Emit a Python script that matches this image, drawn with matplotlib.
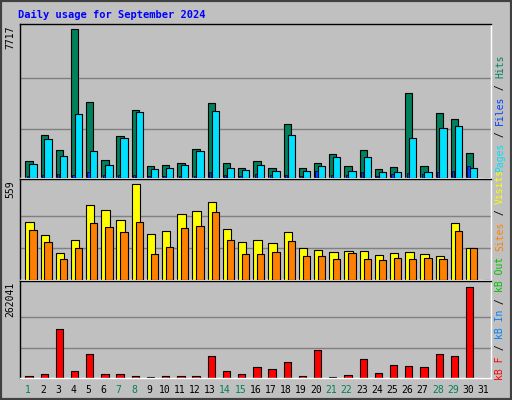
import matplotlib
matplotlib.use("Agg")
import matplotlib.pyplot as plt
from matplotlib.patches import Rectangle

days = list(range(1, 32))
weekend = [1, 7, 8, 14, 15, 21, 22, 28, 29]
hits = [892, 2257, 1470, 7717, 3937, 945, 2205, 3517, 630, 682, 787, 1487, 3885, 787, 525,
        892, 525, 2782, 525, 787, 1260, 630, 1470, 472, 577, 4410, 630, 3360, 3045, 1312, 0]
files = [735, 2047, 1155, 3307, 1417, 682, 2100, 3412, 472, 525, 682, 1417, 3465, 525, 420,
         682, 367, 2257, 367, 630, 1102, 367, 1102, 315, 315, 2100, 315, 2572, 2677, 525, 0]
pages = [120, 150, 200, 150, 330, 160, 150, 160, 110, 110, 100, 110, 330, 150, 110,
         200, 180, 160, 110, 350, 140, 150, 300, 110, 200, 250, 200, 300, 380, 600, 0]
visits = [340, 261, 158, 231, 437, 407, 352, 559, 267, 285, 383, 401, 456, 298, 219,
          231, 213, 279, 188, 176, 164, 170, 170, 146, 158, 164, 152, 140, 334, 188, 0]
sites = [292, 219, 121, 188, 334, 310, 279, 340, 152, 194, 304, 316, 395, 231, 152,
         152, 164, 225, 140, 140, 121, 158, 121, 115, 128, 121, 128, 121, 285, 188, 0]
kbytes = [6700, 12400, 141500, 21000, 69800, 12400, 12400, 6700, 3800, 6700, 6700, 6700, 64000, 21000, 12400,
          32500, 26800, 46800, 6700, 81300, 3800, 9600, 55400, 15300, 38200, 35400, 32500, 69800, 64000, 262041, 0]

W, H = 512, 400
fig = plt.figure(figsize=(W/100, H/100), dpi=100)
fig.patch.set_facecolor("#C0C0C0")
fig.patches.append(Rectangle((0, 0), 1, 1, transform=fig.transFigure, fill=False,
                             edgecolor="#404040", linewidth=3))
mono = "DejaVu Sans Mono"

def panel(y0, y1):
    ax = fig.add_axes([20/W, 1 - y1/H, 471/W, (y1 - y0)/H])
    ax.set_facecolor("#C0C0C0")
    ax.set_xlim(0.5, 31.5)
    ax.set_xticks([]); ax.set_yticks([])
    for s in ax.spines.values():
        s.set_color("black"); s.set_linewidth(1)
    ax.spines["right"].set_color("white"); ax.spines["bottom"].set_color("white")
    return ax

def grid(ax, mx, frac_top):
    ax.set_ylim(0, mx / frac_top)
    for f in (0.33, 0.67):
        ax.axhline(mx * f, color="#808080", lw=1, zorder=0)

bw = 0.48
ax1 = panel(24, 178)
grid(ax1, 7717, 0.965)
x = [d - 0.15 for d in days]
ax1.bar(x, hits, width=bw, align="edge", color="#00805C", edgecolor="black", lw=0.8, zorder=2)
ax1.bar([d + 0.11 for d in days], files, width=bw, align="edge", color="#00E0FF", edgecolor="black", lw=0.8, zorder=3)
ax1.bar([d - 0.06 for d in days], pages, width=0.15, align="edge", color="#0040FF", edgecolor="black", lw=0.5, zorder=4)

ax2 = panel(179, 280)
grid(ax2, 559, 0.95)
ax2.bar(x, visits, width=0.55, align="edge", color="#FFFF00", edgecolor="black", lw=0.8, zorder=2)
ax2.bar([d + 0.11 for d in days], sites, width=bw, align="edge", color="#FF8000", edgecolor="black", lw=0.8, zorder=3)

ax3 = panel(281, 378)
grid(ax3, 262041, 0.94)
ax3.bar(x, kbytes, width=bw, align="edge", color="#FF0000", edgecolor="black", lw=0.8, zorder=2)

for d in days:
    ax3.text(d, -0.07, str(d), transform=ax3.get_xaxis_transform(), ha="center", va="top",
             fontsize=7, family=mono, color="#00805C" if d in weekend else "black")

fig.text(18/W, 1 - 15/H, "Daily usage for September 2024", fontsize=7.5, family=mono,
         weight="bold", color="#0000FF", va="center", ha="left")
for ax, lab in ((ax1, "7717"), (ax2, "559"), (ax3, "262041")):
    ax.text(-0.01, 0.99, lab, transform=ax.transAxes, rotation=90, ha="right", va="top",
            fontsize=7, family=mono)

fig.canvas.draw()
renderer = fig.canvas.get_renderer()

def side(y_bottom, parts):
    y = y_bottom
    for txt, col in parts:
        t = fig.text(500/W, 1 - y/H, txt, rotation=90, ha="center", va="bottom",
                     fontsize=7, family=mono, color=col)
        bb = t.get_window_extent(renderer)
        y -= bb.height

side(172, [("Pages", "#00E0FF"), (" / ", "black"), ("Files", "#0040FF"), (" / ", "black"), ("Hits", "#00805C")])
side(380, [("kB F", "#FF0000"), (" / ", "black"), ("kB In", "#0080FF"), (" / ", "black"), ("kB Out", "#00C000"),
           (" ", "black"), ("Sites", "#FF8000"), (" / ", "black"), ("Visits", "#FFFF00")])

fig.savefig("out.png", dpi=100, facecolor=fig.get_facecolor())
